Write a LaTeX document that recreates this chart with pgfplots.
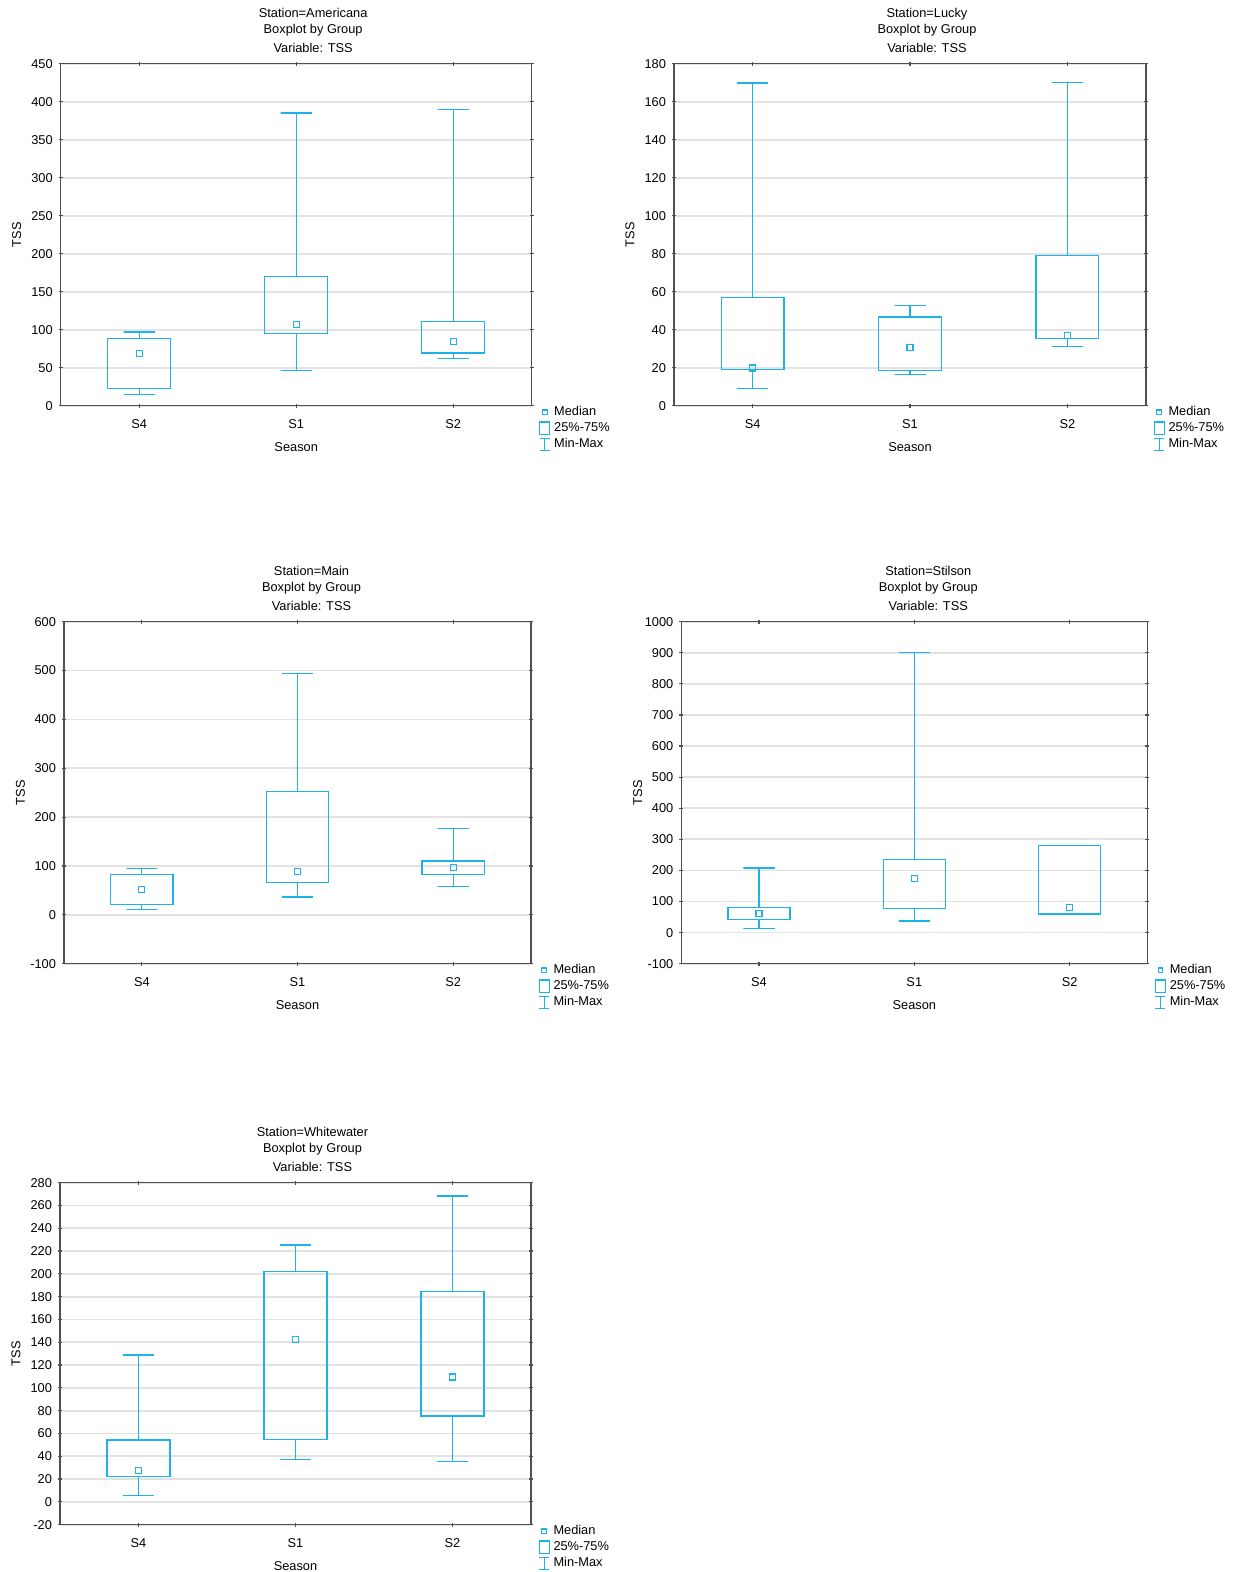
\documentclass[border=0pt]{standalone}
\usepackage{fontspec}
\setmainfont{Liberation Sans}
\usepackage{pgfplots}
\pgfplotsset{compat=1.18}
\definecolor{bx}{RGB}{30,178,235}
\definecolor{axc}{RGB}{80,80,80}
\definecolor{grd}{RGB}{226,226,226}
\newcommand\fs{\fontsize{6.4}{7.7}\selectfont}
\pgfplotsset{
 panel/.style={
  scale only axis, height=171pt, anchor=south west,
  xmin=-0.5, xmax=2.5, xtick={0,1,2}, xticklabels={S4,S1,S2},
  ymajorgrids, grid style={grd, line width=0.9pt},
  axis line style={axc, line width=0.65pt},
  tick style={axc, line width=0.6pt},
  major tick length=2pt, tick align=center,
  tick label style={font=\fs, text=black},
  yticklabel style={xshift=0.5pt},
  xticklabel style={yshift=-2.2pt},
  /pgf/number format/assume math mode=true,
  /pgf/number format/1000 sep={},
  xlabel=Season, ylabel=TSS, label style={font=\fs},
  xlabel style={at={(axis description cs:0.5,-0.121)}, anchor=center},
  ylabel style={at={(axis description cs:-0.0934,0.5)}, anchor=center},
  clip=false,
  legend cell align=left,
  legend style={at={(axis description cs:1,0)}, anchor=north west, xshift=3.6pt, yshift=0pt,
    draw=none, fill=none, inner sep=0pt, row sep=1.4pt,
    nodes={inner sep=0pt, text height=4.8pt, text depth=1.5pt, font=\fs},
    /tikz/every odd column/.append style={column sep=1.9pt}},
 },
 bxp/.style={draw=bx, line width=0.65pt, solid, mark=none, forget plot, line join=miter},
 med/.style={only marks, mark=square, mark size=1.5pt, mark options={draw=bx, line width=0.6pt, fill=none, solid}, forget plot},
}
% #1 left, #2 centre, #3 right, #4 cap left, #5 cap right, #6 min, #7 q1, #8 q3, #9 max
\newcommand\bx[9]{%
\addplot[bxp] coordinates {(#1,#7) (#3,#7) (#3,#8) (#1,#8) (#1,#7) (#3,#7)};
\addplot[bxp] coordinates {(#2,#8) (#2,#9) (#4,#9) (#5,#9)};
\addplot[bxp] coordinates {(#2,#7) (#2,#6) (#4,#6) (#5,#6)};
}
\newcommand\leg{%
\addlegendimage{legend image code/.code={\draw[bx, line width=0.55pt] (1.3pt,-1.2pt) rectangle (3.7pt,1.2pt);}}
\addlegendentry{Median}
\addlegendimage{legend image code/.code={\draw[bx, line width=0.55pt] (0pt,-3.15pt) rectangle (5pt,3.15pt);}}
\addlegendentry{25\%-75\%}
\addlegendimage{legend image code/.code={\draw[bx, line width=0.55pt] (0pt,-3pt) -- (5pt,-3pt) (2.5pt,-3pt) -- (2.5pt,3pt) (0pt,3pt) -- (5pt,3pt);}}
\addlegendentry{Min-Max}
}
\newcommand\ttl[2]{%
\node[anchor=base, font=\fs] at (axis description cs:#1,1) [yshift=23.1pt] {Station=#2};
\node[anchor=base, font=\fs] at (axis description cs:#1,1) [yshift=15.25pt] {Boxplot by Group};
\node[anchor=base, font=\fs] at (axis description cs:#1,1) [yshift=5.6pt] {Variable: TSS};
}
\begin{document}
\begin{tikzpicture}
\path[use as bounding box] (0,0) rectangle (616.5pt,786pt);
% Americana
\begin{axis}[panel, at={(30.35pt,583.15pt)}, width=235.5pt, ymin=0, ymax=450, ytick distance=50]
\bx{-0.2}{0}{0.2}{-0.1}{0.1}{14.9}{22.3}{88.4}{96.8}
\bx{0.8}{1}{1.2}{0.9}{1.1}{46.4}{95.4}{169.9}{385.3}
\bx{1.8}{2}{2.2}{1.9}{2.1}{62.2}{69.2}{111.2}{389.7}
\addplot[med] coordinates {(0,68.7) (1,107.3) (2,84.1)};
\leg
\ttl{0.536}{Americana}
\end{axis}
% Lucky
\begin{axis}[panel, at={(337pt,583.15pt)}, width=236pt, ymin=0, ymax=180, ytick distance=20]
\bx{-0.2}{0}{0.2}{-0.1}{0.1}{9.1}{19.1}{56.9}{169.8}
\bx{0.8}{1}{1.2}{0.9}{1.1}{16.3}{18.6}{46.6}{52.7}
\bx{1.8}{2}{2.2}{1.9}{2.1}{31.2}{35.5}{79.1}{170}
\addplot[med] coordinates {(0,19.8) (1,30.6) (2,36.8)};
\leg
\ttl{0.536}{Lucky}
\end{axis}
% Main
\begin{axis}[panel, at={(32pt,304.15pt)}, width=233.5pt, ymin=-100, ymax=600, ytick distance=100]
\bx{-0.2}{0}{0.2}{-0.1}{0.1}{10.2}{21.1}{82.4}{95.3}
\bx{0.8}{1}{1.2}{0.9}{1.1}{36.8}{66.7}{252}{493.7}
\bx{1.8}{2}{2.2}{1.9}{2.1}{57.9}{82.4}{110.3}{176.4}
\addplot[med] coordinates {(0,52.4) (1,89.2) (2,97.4)};
\leg
\ttl{0.530}{Main}
\end{axis}
% Stilson
\begin{axis}[panel, at={(340.65pt,304.15pt)}, width=233pt, ymin=-100, ymax=1000, ytick distance=100]
\bx{-0.2}{0}{0.2}{-0.1}{0.1}{13.5}{42.4}{79.9}{207.4}
\bx{0.8}{1}{1.2}{0.9}{1.1}{37.1}{76.7}{235.3}{900.4}
\bx{1.8}{2}{2.2}{1.9}{2.1}{59.5}{59.5}{279.3}{279.3}
\addplot[med] coordinates {(0,61.7) (1,175.2) (2,79.9)};
\leg
\ttl{0.530}{Stilson}
\end{axis}
% Whitewater
\begin{axis}[panel, at={(30pt,23.65pt)}, width=235.5pt, ymin=-20, ymax=280, ytick distance=20]
\bx{-0.2}{0}{0.2}{-0.1}{0.1}{5.4}{22.0}{54.4}{128.8}
\bx{0.8}{1}{1.2}{0.9}{1.1}{37.2}{54.7}{202.4}{225.4}
\bx{1.8}{2}{2.2}{1.9}{2.1}{35.2}{75.4}{184.6}{268.4}
\addplot[med] coordinates {(0,27.3) (1,142.3) (2,109.6)};
\leg
\ttl{0.536}{Whitewater}
\end{axis}
\end{tikzpicture}
\end{document}
